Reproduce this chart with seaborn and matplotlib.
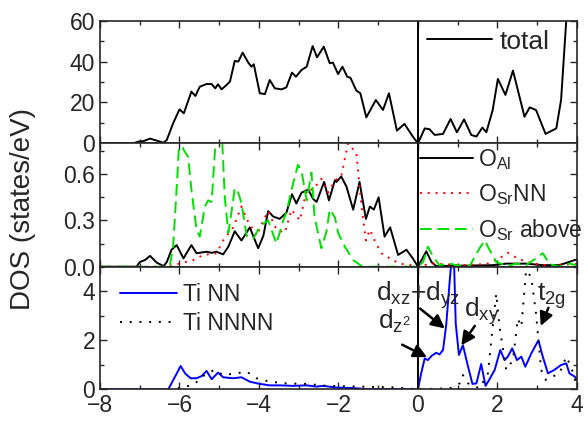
import numpy as np
import pandas as pd
import matplotlib
matplotlib.use('Agg')
import matplotlib.pyplot as plt
import seaborn as sns
from matplotlib.ticker import MultipleLocator

sns.set_style('ticks')
plt.rcParams['font.family'] = ['Liberation Sans', 'DejaVu Sans']
plt.rcParams['mathtext.fontset'] = 'custom'
plt.rcParams['mathtext.rm'] = 'Liberation Sans'
plt.rcParams['mathtext.it'] = 'Liberation Sans'
plt.rcParams['mathtext.default'] = 'regular'

# total DOS
total_e = [-8, -7.16, -7.04, -6.9, -6.74, -6.57, -6.4, -6.32, -6.16, -6.0, -5.89, -5.7, -5.6,
           -5.49, -5.32, -5.19, -5.1, -5.03, -4.94, -4.82, -4.73, -4.61, -4.52, -4.41, -4.27,
           -4.19, -4.13, -3.98, -3.85, -3.73, -3.6, -3.43, -3.31, -3.17, -3.07, -2.93, -2.8,
           -2.65, -2.54, -2.37, -2.22, -2.14, -2.01, -1.9, -1.78, -1.7, -1.55, -1.45, -1.3,
           -1.06, -0.88, -0.73, -0.53, -0.34, -0.13, 0, 0.17, 0.29, 0.42, 0.63, 0.82, 0.98,
           1.16, 1.34, 1.47, 1.62, 1.72, 1.88, 2.01, 2.2, 2.39, 2.68, 2.81, 2.97, 3.21, 3.48,
           3.6, 3.73, 3.85]
total_dos = [0, 0, 0.8, 1.1, 2.3, 1.3, 0.3, 1.6, 9.8, 16.6, 14.7, 25.3, 23.2,
             27.7, 29.0, 29.0, 26.9, 28.9, 26.4, 28.5, 30.2, 40.3, 40.0, 44.4, 39.5,
             37.5, 38.7, 24.5, 24.1, 31.0, 26.9, 26.4, 27.4, 34.6, 32.6, 35.9, 37.5,
             47.6, 42.1, 47.3, 39.2, 39.5, 33.9, 37.5, 32.6, 32.1, 25.8, 24.5, 12.7,
             21.2, 16.3, 24.5, 6.2, 9.5, 3.3, 0, 7.3, 6.9, 4.1, 4.6, 11.9, 5.4,
             11.7, 4.1, 3.3, 7.7, 5.4, 16.3, 31.5, 23.7, 35.6, 13.0, 17.6, 16.3, 4.6, 7.3,
             21.2, 60, 90]

# O_Al
oal_e = [-8, -7.08, -7.0, -6.87, -6.74, -6.57, -6.4, -6.32, -6.2, -6.07, -5.9, -5.7, -5.57,
         -5.32, -5.19, -5.07, -4.9, -4.77, -4.61, -4.44, -4.23, -4.1, -4.02, -3.89, -3.77,
         -3.64, -3.48, -3.31, -3.17, -3.06, -2.93, -2.76, -2.64, -2.55, -2.36, -2.24, -2.09,
         -2.05, -1.93, -1.8, -1.63, -1.47, -1.31, -1.21, -1.11, -0.99, -0.84, -0.7, -0.5,
         -0.29, -0.13, 0, 0.21, 0.34, 0.46, 1.88, 2.22, 2.72, 3.14, 3.56, 3.94, 4.0]
oal_dos = [0, 0, 0.03, 0.043, 0.07, 0.026, 0.004, 0.03, 0.11, 0.14, 0.054, 0.14, 0.087,
           0.097, 0.09, 0.097, 0.08, 0.13, 0.23, 0.17, 0.255, 0.17, 0.12, 0.2, 0.36,
           0.325, 0.31, 0.35, 0.47, 0.41, 0.48, 0.5, 0.44, 0.42, 0.55, 0.43, 0.56,
           0.55, 0.585, 0.52, 0.37, 0.55, 0.31, 0.39, 0.37, 0.45, 0.195, 0.255, 0.076,
           0.11, 0.054, 0, 0.10, 0.03, 0.004, 0.01, 0.02, 0.02, 0.01, 0.01, 0.043, 0.045]

# O_Sr NN
osrnn_e = [-8, -6.32, -6.0, -5.65, -5.4, -5.07, -4.9, -4.65, -4.44, -4.27, -4.06, -3.89, -3.77,
           -3.56, -3.35, -3.18, -2.97, -2.8, -2.64, -2.43, -2.26, -2.09, -1.93, -1.76, -1.63,
           -1.55, -1.42, -1.31, -1.21, -1.09, -0.92, -0.71, -0.46, 0, 0.38, 1.05, 1.72, 2.05,
           2.26, 2.55, 2.89, 3.22, 3.94, 4.0]
osrnn_dos = [0, 0, 0.02, 0.043, 0.076, 0.087, 0.17, 0.255, 0.39, 0.29, 0.2, 0.3, 0.36,
             0.24, 0.22, 0.37, 0.3, 0.5, 0.5, 0.57, 0.48, 0.56, 0.585, 0.8, 0.76,
             0.74, 0.39, 0.17, 0.24, 0.17, 0.087, 0.054, 0.02, 0.004, 0.02, 0.01, 0.017, 0.054,
             0.09, 0.048, 0.02, 0.01, 0.017, 0.017]

# O_Sr above
osrab_e = [-8, -6.4, -6.24, -6.16, -6.05, -5.99, -5.9, -5.78, -5.7, -5.57, -5.49, -5.36, -5.28,
           -5.19, -5.12, -5.07, -4.94, -4.86, -4.77, -4.65, -4.61, -4.52, -4.44, -4.31, -4.15,
           -4.02, -3.89, -3.77, -3.56, -3.39, -3.31, -3.18, -3.02, -2.93, -2.8, -2.68, -2.6,
           -2.43, -2.3, -2.22, -2.09, -2.01, -1.84, -1.63, -1.42, -1.26, 0, 0.13, 0.25, 0.38,
           0.54, 0.8, 0.96, 1.3, 1.55, 1.68, 1.8, 1.97, 2.26, 2.47, 2.72, 2.97, 3.14, 3.31,
           3.56, 3.81, 3.98]
osrab_dos = [0, 0, 0.01, 0.13, 0.6, 0.9, 0.76, 0.71, 0.5, 0.24, 0.195, 0.39, 0.43,
             0.42, 0.7, 0.9, 0.9, 0.45, 0.22, 0.43, 0.51, 0.48, 0.41, 0.2, 0.18,
             0.24, 0.28, 0.3, 0.15, 0.3, 0.35, 0.5, 0.66, 0.62, 0.43, 0.61, 0.32,
             0.12, 0.23, 0.37, 0.32, 0.22, 0.13, 0.043, 0.004, 0, 0, 0.03, 0.13, 0.065,
             0.01, 0.02, 0.01, 0.004, 0.12, 0.17, 0.11, 0.03, 0.004, 0.02, 0.01, 0.054, 0.087, 0.017,
             0, 0.02, 0.01]

# Ti NN
tinn_e = [-8, -6.28, -6.11, -5.97, -5.86, -5.72, -5.57, -5.44, -5.32, -5.19, -5.03, -4.9, -4.65,
          -4.44, -4.23, -3.98, -3.73, -3.48, -3.14, -2.8, -2.55, -2.39, -2.05, -1.63, -1.3, 0,
          0.08, 0.17, 0.25, 0.34, 0.46, 0.54, 0.63, 0.71, 0.8, 0.86, 0.9, 0.95, 1.03, 1.13, 1.26,
          1.37, 1.47, 1.59, 1.7, 1.8, 1.93, 2.07, 2.18, 2.26, 2.37, 2.49, 2.6, 2.7, 2.85,
          3.03, 3.14, 3.27, 3.43, 3.6, 3.73, 3.81, 3.94, 4.0]
tinn_dos = [0, 0, 0.52, 0.95, 0.65, 0.45, 0.45, 0.54, 0.75, 0.41, 0.68, 0.49, 0.45,
            0.49, 0.31, 0.22, 0.16, 0.16, 0.14, 0.16, 0.11, 0.14, 0.07, 0.05, 0.01, 0,
            0.65, 1.26, 1.19, 1.36, 1.49, 1.42, 1.6, 2.62, 4.45, 5.6, 5.6, 2.68, 1.4, 1.8, 0.92,
            0.22, 0.24, 1.03, 0.14, 0.41, 0.79, 1.6, 1.19, 1.33, 1.67, 1.19, 1.33, 0.92, 1.46,
            2.0, 1.33, 0.65, 0.79, 0.99, 1.06, 0.65, 0.52, 0.38]

# Ti NNNN
tinnnn_e = [-8, -6.16, -5.65, -5.32, -5.11, -4.9, -4.57, -4.31, -4.06, -3.73, -3.31, -2.8, -2.3,
            -1.47, -0.63, 0, 0.8, 1.05, 1.13, 1.26, 1.55, 1.76, 1.88, 1.97, 2.05, 2.22, 2.39,
            2.51, 2.6, 2.72, 2.85, 2.97, 3.1, 3.22, 3.39, 3.56, 3.73, 3.85, 3.98]
tinnnn_dos = [0, 0, 0.18, 0.65, 0.79, 0.58, 0.65, 0.72, 0.45, 0.31, 0.24, 0.22, 0.14,
              0.11, 0.08, 0, 0.04, 0.24, 0.58, 0.24, 0.04, 0.65, 2.55, 3.9, 2.55, 0.79, 1.19,
              2.88, 2.55, 4.85, 4.58, 3.08, 0.79, 0.38, 0.52, 0.65, 1.33, 0.92, 0.24]

fig = plt.figure(figsize=(5.86, 4.23), dpi=100)
left, width = 0.1706, 0.814
ax1 = fig.add_axes([left, 0.6612, width, 0.2898])
ax2 = fig.add_axes([left, 0.3695, width, 0.2917])
ax3 = fig.add_axes([left, 0.0797, width, 0.2898])

lw = 1.4
sns.lineplot(x=total_e, y=total_dos, ax=ax1, color='black', lw=lw, label='total', sort=False)

sns.lineplot(x=oal_e, y=oal_dos, ax=ax2, color='black', lw=lw, label='O$_{Al}$', sort=False)
sns.lineplot(x=osrnn_e, y=osrnn_dos, ax=ax2, color='red', lw=lw, label='O$_{Sr}$NN', sort=False)
ax2.lines[-1].set_linestyle((0, (1, 3)))
sns.lineplot(x=osrab_e, y=osrab_dos, ax=ax2, color='#00e000', lw=lw, label='O$_{Sr}$ above', sort=False)
ax2.lines[-1].set_linestyle((0, (6, 3)))

sns.lineplot(x=tinn_e, y=tinn_dos, ax=ax3, color='blue', lw=lw, label='Ti NN', sort=False)
sns.lineplot(x=tinnnn_e, y=tinnnn_dos, ax=ax3, color='black', lw=lw, label='Ti NNNN', sort=False)
ax3.lines[-1].set_linestyle((0, (1, 4)))

for ax in (ax1, ax2, ax3):
    ax.axvline(0, color='black', lw=1.4)
    ax.set_xlim(-8, 4)
    ax.xaxis.set_major_locator(MultipleLocator(2))
    ax.xaxis.set_minor_locator(MultipleLocator(1))
    ax.tick_params(which='both', direction='in', top=True, right=True, labelsize=16.5, width=1)
    ax.tick_params(which='major', length=5)
    ax.tick_params(which='minor', length=3)
    ax.set_xlabel('')
    ax.set_ylabel('')
    for s in ax.spines.values():
        s.set_linewidth(1.2)

ax1.set_ylim(0, 60)
ax1.yaxis.set_major_locator(MultipleLocator(20))
ax1.yaxis.set_minor_locator(MultipleLocator(10))
ax1.tick_params(labelbottom=False)

ax2.set_ylim(0, 0.8)
ax2.set_yticks([0.0, 0.3, 0.6])
ax2.set_yticklabels(['0.0', '0.3', '0.6'])
ax2.yaxis.set_minor_locator(MultipleLocator(0.15))
ax2.tick_params(labelbottom=False)

ax3.set_ylim(0, 5)
ax3.yaxis.set_major_locator(MultipleLocator(2))
ax3.yaxis.set_minor_locator(MultipleLocator(1))

ax1.legend(loc='center left', frameon=False, fontsize=19, handlelength=2.46,
           handletextpad=0.27, borderpad=0, borderaxespad=0, bbox_to_anchor=(0.686, 0.83))
ax2.legend(loc='center left', frameon=False, fontsize=16.5, handlelength=2.3,
           handletextpad=0.22, labelspacing=0.45, borderpad=0, borderaxespad=0,
           bbox_to_anchor=(0.671, 0.58))
ax3.legend(loc='center left', frameon=False, fontsize=16.5, handlelength=2.5,
           handletextpad=0.26, labelspacing=0.3, borderpad=0, borderaxespad=0,
           bbox_to_anchor=(0.042, 0.655))

fig.text(0.039, 0.506, 'DOS (states/eV)', rotation=90, fontsize=20, va='center', ha='center')

ap = dict(arrowstyle='-|>', color='black', lw=1.8, mutation_scale=20)
ax3.text(-1.05, 3.6, 'd$_{xz}$+d$_{yz}$', fontsize=19)
ax3.text(-1.0, 2.48, 'd$_{z^2}$', fontsize=19)
ax3.text(1.15, 2.95, 'd$_{xy}$', fontsize=19)
ax3.text(3.0, 3.6, 't$_{2g}$', fontsize=19)
ax3.annotate('', xy=(0.29, 1.26), xytext=(-0.46, 1.87), arrowprops=ap)
ax3.annotate('', xy=(0.73, 2.41), xytext=(0.0, 3.36), arrowprops=ap)
ax3.annotate('', xy=(1.05, 1.7), xytext=(1.47, 2.68), arrowprops=ap)
ax3.annotate('', xy=(3.06, 2.48), xytext=(3.31, 3.43), arrowprops=ap)

plt.savefig('out.png', dpi=100)
